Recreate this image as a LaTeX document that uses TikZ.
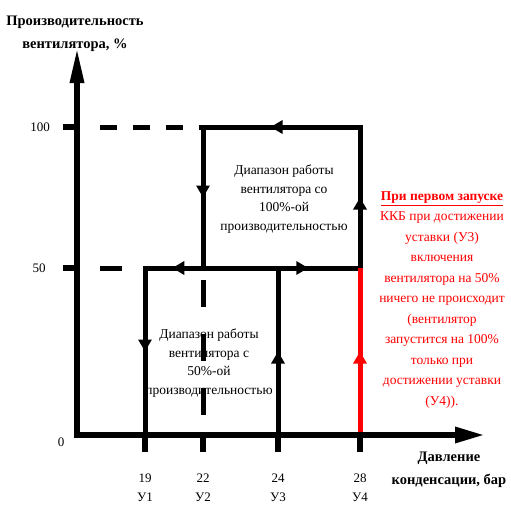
\documentclass[tikz,border=0pt]{standalone}
\usepackage{fontspec}
\setmainfont{Liberation Serif}
\usetikzlibrary{arrows.meta, decorations.markings, positioning}

\begin{document}
\begin{tikzpicture}[x = 1pt, y = -1pt,
  flow/.style = {line width = 5pt, line cap = rect},
  redflow/.style = {line width = 5pt, red},
  dashline/.style = {line width = 5pt, dash pattern = on 17pt off 16pt},
  tickbar/.style = {line width = 6pt},
  midarrow/.style = {postaction = decorate, decoration = {markings,
      mark = at position #1 with {\arrow{Triangle[length = 12pt, width = 13pt]}}}},
  num/.style = {font = \fontsize{13}{15}\selectfont, inner sep = 1pt},
  title/.style = {align = center, font = \bfseries\fontsize{14.5}{23}\selectfont},
  rangetext/.style = {align = center, font = \fontsize{13.5}{18.5}\selectfont},
  note/.style = {align = center, text = red, font = \fontsize{13.5}{20.5}\selectfont}]
\useasboundingbox (0,0) rectangle (511,506);

% corners of the two ranges
\coordinate (o) at (77,435);
\coordinate (ytop) at (77,47);
\coordinate (xend) at (485,435);
\coordinate (a) at (203,127);
\coordinate (b) at (360,127);
\coordinate (c) at (360,268);
\coordinate (d) at (203,268);
\coordinate (e) at (145,268);
\coordinate (f) at (145,435);
\coordinate (g) at (278,268);
\coordinate (h) at (278,435);
\coordinate (r) at (360,435);

% dashed guides
\draw[dashline] (100,127) -- (a);
\draw[dashline, dash pattern = on 22pt off 30pt] (100,268) -- (e);
\draw[line width = 5pt, dash pattern = on 27pt off 27pt] (203,280) -- (203,420);

% 100% range
\draw[flow, midarrow = .5] (c) -- (b);
\draw[flow, midarrow = .57] (b) -- (a);
\draw[flow, midarrow = .5] (a) -- (d);
% 50% range
\draw[flow] (d) -- (g);
\draw[flow, midarrow = .53] (d) -- (e);
\draw[flow, midarrow = .37] (g) -- (c);
\draw[flow, midarrow = .5] (e) -- (f);
\draw[flow, midarrow = .5] (h) -- (g);
\draw[redflow, midarrow = .5] (r) -- (c);

% axes and ticks
\draw[line width = 6pt, {Triangle[length = 36pt, width = 13pt]}-{Triangle[length = 30pt, width = 15pt]}]
  (ytop) -- (o) -- (xend);
\draw[tickbar] (63,127) -- (77,127);
\draw[tickbar] (63,268) -- (77,268);
\foreach \x/\v/\u in {145/19/1, 203/22/2, 278/24/3, 360/28/4} {
  \draw[tickbar] (\x,435) -- (\x,452);
  \node[num] (p\v) at (\x,478) {\v};
  \node[num, below = 8pt of p\v] (s\u) {У\u};
}

\node[num] (v100) at (40,127) {100};
\node[num] (v50) at (39,268) {50};
\node[num] (v0) at (61,442) {0};

\node[title] (ylabel) at (75,34) {Производительность\\вентилятора, \%};
\node[title] (xlabel) at (449,470) {Давление\\конденсации, бар};

\node[rangetext] (top) at (284,199) {Диапазон работы\\вентилятора со\\100\%-ой\\производительностью};
\node[rangetext] (low) at (209,363) {Диапазон работы\\вентилятора с\\50\%-ой\\производительностью};

\node[note] (hint) at (442,300) {\underline{\textbf{При первом запуске}}\\ККБ при достижении\\уставки (У3)\\включения\\вентилятора на 50\%\\ничего не происходит\\(вентилятор\\запустится на 100\%\\только при\\достижении уставки\\(У4)).};
\end{tikzpicture}
\end{document}
